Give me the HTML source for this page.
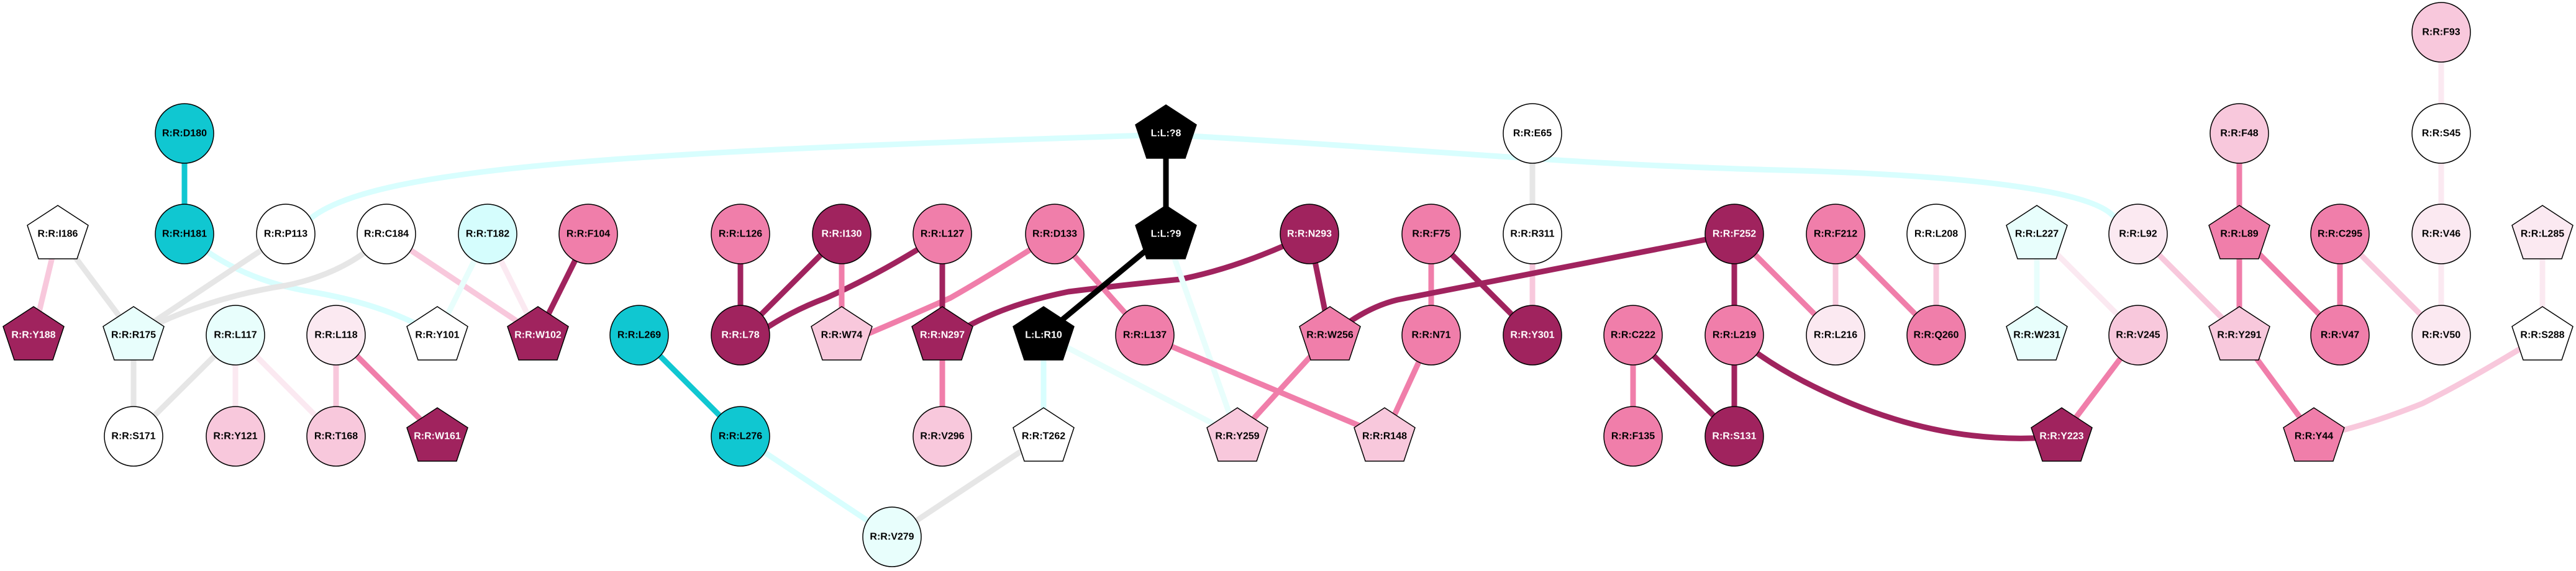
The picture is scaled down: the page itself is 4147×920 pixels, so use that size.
<!DOCTYPE html>
<html><head><meta charset="utf-8"><style>
html,body{margin:0;padding:0;background:#fff;}
svg{display:block}
text{font-family:"Liberation Sans",sans-serif;font-weight:bold;font-size:16px;text-anchor:middle;dominant-baseline:central;stroke:none;fill:#000}
text.w{fill:#fff}
</style></head><body>
<svg width="4147" height="920" viewBox="0 0 4147 920" xmlns="http://www.w3.org/2000/svg">
<defs>
<polygon id="pg" points="0,-46 49,-14 31,40 -31,40 -49,-14" stroke="#000" stroke-width="1.5"/>
</defs>
<g fill="none" stroke-width="9" stroke-linecap="butt">
<path d="M500 352 C600 270 1000 245 1877 217 C2300 240 2500 265 2900 275 C3200 285 3370 310 3403 349" stroke="#D8FEFE"/>
<line x1="297" y1="215" x2="297" y2="377" stroke="#10C7D1"/>
<path d="M297 377 Q380 450 500 470 Q620 490 704 540" stroke="#D8FEFE"/>
<line x1="93" y1="377" x2="54" y2="540" stroke="#F8C8DC"/>
<line x1="93" y1="377" x2="215" y2="540" stroke="#E6E6E6"/>
<line x1="460" y1="377" x2="215" y2="540" stroke="#E6E6E6"/>
<path d="M622 377 Q560 440 460 460 Q330 480 215 540" stroke="#E6E6E6"/>
<line x1="622" y1="377" x2="866" y2="540" stroke="#F8C8DC"/>
<line x1="785" y1="377" x2="704" y2="540" stroke="#E8FEFC"/>
<line x1="785" y1="377" x2="866" y2="540" stroke="#FBE9F1"/>
<line x1="947" y1="377" x2="866" y2="540" stroke="#A0235E"/>
<line x1="215" y1="540" x2="215" y2="703" stroke="#E6E6E6"/>
<line x1="379" y1="540" x2="215" y2="703" stroke="#E6E6E6"/>
<line x1="379" y1="540" x2="379" y2="703" stroke="#FBE9F1"/>
<line x1="379" y1="540" x2="541" y2="703" stroke="#FBE9F1"/>
<line x1="541" y1="540" x2="541" y2="703" stroke="#F8C8DC"/>
<line x1="541" y1="540" x2="704" y2="703" stroke="#F07EAA"/>
<line x1="1029" y1="540" x2="1192" y2="703" stroke="#10C7D1"/>
<line x1="1192" y1="703" x2="1436" y2="865" stroke="#D8FEFE"/>
<line x1="1680" y1="703" x2="1436" y2="865" stroke="#E6E6E6"/>
<line x1="1192" y1="377" x2="1192" y2="540" stroke="#A0235E"/>
<line x1="1355" y1="377" x2="1192" y2="540" stroke="#A0235E"/>
<path d="M1517 377 Q1420 440 1330 480 Q1250 510 1192 560" stroke="#A0235E"/>
<line x1="1355" y1="377" x2="1355" y2="540" stroke="#F07EAA"/>
<path d="M1698 377 Q1600 440 1530 480 Q1440 520 1380 545" stroke="#F07EAA"/>
<line x1="1517" y1="377" x2="1517" y2="540" stroke="#A0235E"/>
<path d="M2108 377 Q2000 430 1900 450 Q1800 460 1720 470 Q1620 490 1550 530" stroke="#A0235E"/>
<line x1="1698" y1="377" x2="1843" y2="540" stroke="#F07EAA"/>
<line x1="1877" y1="215" x2="1877" y2="377" stroke="#000"/>
<line x1="1877" y1="377" x2="1680" y2="540" stroke="#000"/>
<line x1="1877" y1="377" x2="1992" y2="703" stroke="#E8FEFC"/>
<line x1="1680" y1="540" x2="1680" y2="703" stroke="#D8FEFE"/>
<line x1="1680" y1="540" x2="1992" y2="703" stroke="#E8FEFC"/>
<line x1="1517" y1="540" x2="1517" y2="703" stroke="#F07EAA"/>
<line x1="1843" y1="540" x2="2229" y2="703" stroke="#F07EAA"/>
<line x1="2108" y1="377" x2="2141" y2="540" stroke="#A0235E"/>
<line x1="2141" y1="540" x2="1992" y2="703" stroke="#F07EAA"/>
<line x1="2304" y1="540" x2="2229" y2="703" stroke="#F07EAA"/>
<line x1="2304" y1="377" x2="2304" y2="540" stroke="#F07EAA"/>
<line x1="2304" y1="377" x2="2467" y2="540" stroke="#A0235E"/>
<line x1="2467" y1="215" x2="2467" y2="377" stroke="#E6E6E6"/>
<line x1="2467" y1="377" x2="2467" y2="540" stroke="#F8C8DC"/>
<path d="M2792 377 L2250 483 Q2200 495 2150 535" stroke="#A0235E"/>
<line x1="2792" y1="377" x2="2792" y2="540" stroke="#A0235E"/>
<line x1="2792" y1="377" x2="2955" y2="540" stroke="#F07EAA"/>
<line x1="2955" y1="377" x2="2955" y2="540" stroke="#F8C8DC"/>
<line x1="2955" y1="377" x2="3117" y2="540" stroke="#F07EAA"/>
<line x1="3117" y1="377" x2="3117" y2="540" stroke="#F8C8DC"/>
<line x1="2629" y1="540" x2="2629" y2="703" stroke="#F07EAA"/>
<line x1="2629" y1="540" x2="2792" y2="703" stroke="#A0235E"/>
<line x1="2792" y1="540" x2="2792" y2="703" stroke="#A0235E"/>
<path d="M2792 540 Q2860 600 2980 650 Q3150 720 3319 703" stroke="#A0235E"/>
<line x1="3279" y1="377" x2="3279" y2="540" stroke="#E8FEFC"/>
<line x1="3279" y1="377" x2="3442" y2="540" stroke="#FBE9F1"/>
<line x1="3442" y1="540" x2="3319" y2="703" stroke="#F07EAA"/>
<line x1="3442" y1="377" x2="3605" y2="540" stroke="#F8C8DC"/>
<line x1="3605" y1="215" x2="3605" y2="377" stroke="#F07EAA"/>
<line x1="3605" y1="377" x2="3605" y2="540" stroke="#F07EAA"/>
<line x1="3605" y1="377" x2="3767" y2="540" stroke="#F07EAA"/>
<line x1="3767" y1="377" x2="3767" y2="540" stroke="#F07EAA"/>
<line x1="3767" y1="377" x2="3930" y2="540" stroke="#F8C8DC"/>
<line x1="3930" y1="52" x2="3930" y2="215" stroke="#FBE9F1"/>
<line x1="3930" y1="215" x2="3930" y2="377" stroke="#FBE9F1"/>
<line x1="3930" y1="377" x2="3930" y2="540" stroke="#FBE9F1"/>
<line x1="4093" y1="377" x2="4093" y2="540" stroke="#FBE9F1"/>
<line x1="3605" y1="540" x2="3725" y2="703" stroke="#F07EAA"/>
<path d="M4093 540 Q3980 610 3900 650 Q3800 690 3725 703" stroke="#F8C8DC"/>
</g>
<g stroke="#000" stroke-width="1.5">
<ellipse cx="297" cy="215" rx="47" ry="48" fill="#10C7D1"/><text x="297" y="215">R:R:D180</text>
<ellipse cx="297" cy="377" rx="47" ry="48" fill="#10C7D1"/><text x="297" y="377">R:R:H181</text>
<use href="#pg" x="93" y="377" fill="#fff"/><text x="93" y="377">R:R:I186</text>
<use href="#pg" x="54" y="540" fill="#A0235E"/><text class="w" x="54" y="540">R:R:Y188</text>
<ellipse cx="460" cy="377" rx="47" ry="48" fill="#fff"/><text x="460" y="377">R:R:P113</text>
<ellipse cx="622" cy="377" rx="47" ry="48" fill="#fff"/><text x="622" y="377">R:R:C184</text>
<ellipse cx="785" cy="377" rx="47" ry="48" fill="#D5FDFD"/><text x="785" y="377">R:R:T182</text>
<ellipse cx="947" cy="377" rx="47" ry="48" fill="#F07EAA"/><text x="947" y="377">R:R:F104</text>
<use href="#pg" x="215" y="540" fill="#E8FEFC"/><text x="215" y="540">R:R:R175</text>
<ellipse cx="379" cy="540" rx="47" ry="48" fill="#E8FEFC"/><text x="379" y="540">R:R:L117</text>
<ellipse cx="541" cy="540" rx="47" ry="48" fill="#FBE9F1"/><text x="541" y="540">R:R:L118</text>
<use href="#pg" x="704" y="540" fill="#fff"/><text x="704" y="540">R:R:Y101</text>
<use href="#pg" x="866" y="540" fill="#A0235E"/><text class="w" x="866" y="540">R:R:W102</text>
<ellipse cx="1029" cy="540" rx="47" ry="48" fill="#10C7D1"/><text x="1029" y="540">R:R:L269</text>
<ellipse cx="215" cy="703" rx="47" ry="48" fill="#fff"/><text x="215" y="703">R:R:S171</text>
<ellipse cx="379" cy="703" rx="47" ry="48" fill="#F8C8DC"/><text x="379" y="703">R:R:Y121</text>
<ellipse cx="541" cy="703" rx="47" ry="48" fill="#F8C8DC"/><text x="541" y="703">R:R:T168</text>
<use href="#pg" x="704" y="703" fill="#A0235E"/><text class="w" x="704" y="703">R:R:W161</text>
<ellipse cx="1192" cy="377" rx="47" ry="48" fill="#F07EAA"/><text x="1192" y="377">R:R:L126</text>
<ellipse cx="1355" cy="377" rx="47" ry="48" fill="#A0235E"/><text class="w" x="1355" y="377">R:R:I130</text>
<ellipse cx="1517" cy="377" rx="47" ry="48" fill="#F07EAA"/><text x="1517" y="377">R:R:L127</text>
<ellipse cx="1698" cy="377" rx="47" ry="48" fill="#F07EAA"/><text x="1698" y="377">R:R:D133</text>
<use href="#pg" x="1877" y="215" fill="#000"/><text class="w" x="1877" y="215">L:L:?8</text>
<use href="#pg" x="1877" y="377" fill="#000"/><text class="w" x="1877" y="377">L:L:?9</text>
<ellipse cx="2108" cy="377" rx="47" ry="48" fill="#A0235E"/><text class="w" x="2108" y="377">R:R:N293</text>
<ellipse cx="2304" cy="377" rx="47" ry="48" fill="#F07EAA"/><text x="2304" y="377">R:R:F75</text>
<ellipse cx="2467" cy="215" rx="47" ry="48" fill="#fff"/><text x="2467" y="215">R:R:E65</text>
<ellipse cx="2467" cy="377" rx="47" ry="48" fill="#fff"/><text x="2467" y="377">R:R:R311</text>
<ellipse cx="1192" cy="540" rx="47" ry="48" fill="#A0235E"/><text class="w" x="1192" y="540">R:R:L78</text>
<use href="#pg" x="1355" y="540" fill="#F8C8DC"/><text x="1355" y="540">R:R:W74</text>
<use href="#pg" x="1517" y="540" fill="#A0235E"/><text class="w" x="1517" y="540">R:R:N297</text>
<use href="#pg" x="1680" y="540" fill="#000"/><text class="w" x="1680" y="540">L:L:R10</text>
<ellipse cx="1843" cy="540" rx="47" ry="48" fill="#F07EAA"/><text x="1843" y="540">R:R:L137</text>
<use href="#pg" x="2141" y="540" fill="#F07EAA"/><text x="2141" y="540">R:R:W256</text>
<ellipse cx="2304" cy="540" rx="47" ry="48" fill="#F07EAA"/><text x="2304" y="540">R:R:N71</text>
<ellipse cx="2467" cy="540" rx="47" ry="48" fill="#A0235E"/><text class="w" x="2467" y="540">R:R:Y301</text>
<ellipse cx="1192" cy="703" rx="47" ry="48" fill="#10C7D1"/><text x="1192" y="703">R:R:L276</text>
<ellipse cx="1517" cy="703" rx="47" ry="48" fill="#F8C8DC"/><text x="1517" y="703">R:R:V296</text>
<use href="#pg" x="1680" y="703" fill="#fff"/><text x="1680" y="703">R:R:T262</text>
<use href="#pg" x="1992" y="703" fill="#F8C8DC"/><text x="1992" y="703">R:R:Y259</text>
<use href="#pg" x="2229" y="703" fill="#F8C8DC"/><text x="2229" y="703">R:R:R148</text>
<ellipse cx="1436" cy="865" rx="47" ry="48" fill="#E8FEFC"/><text x="1436" y="865">R:R:V279</text>
<ellipse cx="2792" cy="377" rx="47" ry="48" fill="#A0235E"/><text class="w" x="2792" y="377">R:R:F252</text>
<ellipse cx="2955" cy="377" rx="47" ry="48" fill="#F07EAA"/><text x="2955" y="377">R:R:F212</text>
<ellipse cx="3117" cy="377" rx="47" ry="48" fill="#fff"/><text x="3117" y="377">R:R:L208</text>
<use href="#pg" x="3279" y="377" fill="#E8FEFC"/><text x="3279" y="377">R:R:L227</text>
<ellipse cx="3442" cy="377" rx="47" ry="48" fill="#FBE9F1"/><text x="3442" y="377">R:R:L92</text>
<use href="#pg" x="3605" y="377" fill="#F07EAA"/><text x="3605" y="377">R:R:L89</text>
<ellipse cx="3767" cy="377" rx="47" ry="48" fill="#F07EAA"/><text x="3767" y="377">R:R:C295</text>
<ellipse cx="3930" cy="377" rx="47" ry="48" fill="#FBE9F1"/><text x="3930" y="377">R:R:V46</text>
<use href="#pg" x="4093" y="377" fill="#FBE9F1"/><text x="4093" y="377">R:R:L285</text>
<ellipse cx="2629" cy="540" rx="47" ry="48" fill="#F07EAA"/><text x="2629" y="540">R:R:C222</text>
<ellipse cx="2792" cy="540" rx="47" ry="48" fill="#F07EAA"/><text x="2792" y="540">R:R:L219</text>
<ellipse cx="2955" cy="540" rx="47" ry="48" fill="#FBE9F1"/><text x="2955" y="540">R:R:L216</text>
<ellipse cx="3117" cy="540" rx="47" ry="48" fill="#F07EAA"/><text x="3117" y="540">R:R:Q260</text>
<use href="#pg" x="3279" y="540" fill="#E8FEFC"/><text x="3279" y="540">R:R:W231</text>
<ellipse cx="3442" cy="540" rx="47" ry="48" fill="#F8C8DC"/><text x="3442" y="540">R:R:V245</text>
<use href="#pg" x="3605" y="540" fill="#F8C8DC"/><text x="3605" y="540">R:R:Y291</text>
<ellipse cx="3767" cy="540" rx="47" ry="48" fill="#F07EAA"/><text x="3767" y="540">R:R:V47</text>
<ellipse cx="3930" cy="540" rx="47" ry="48" fill="#FBE9F1"/><text x="3930" y="540">R:R:V50</text>
<use href="#pg" x="4093" y="540" fill="#fff"/><text x="4093" y="540">R:R:S288</text>
<ellipse cx="2629" cy="703" rx="47" ry="48" fill="#F07EAA"/><text x="2629" y="703">R:R:F135</text>
<ellipse cx="2792" cy="703" rx="47" ry="48" fill="#A0235E"/><text class="w" x="2792" y="703">R:R:S131</text>
<use href="#pg" x="3319" y="703" fill="#A0235E"/><text class="w" x="3319" y="703">R:R:Y223</text>
<use href="#pg" x="3725" y="703" fill="#F07EAA"/><text x="3725" y="703">R:R:Y44</text>
<ellipse cx="3605" cy="215" rx="47" ry="48" fill="#F8C8DC"/><text x="3605" y="215">R:R:F48</text>
<ellipse cx="3930" cy="215" rx="47" ry="48" fill="#fff"/><text x="3930" y="215">R:R:S45</text>
<ellipse cx="3930" cy="52" rx="47" ry="48" fill="#F8C8DC"/><text x="3930" y="52">R:R:F93</text>
</g>
</svg>
</body></html>
